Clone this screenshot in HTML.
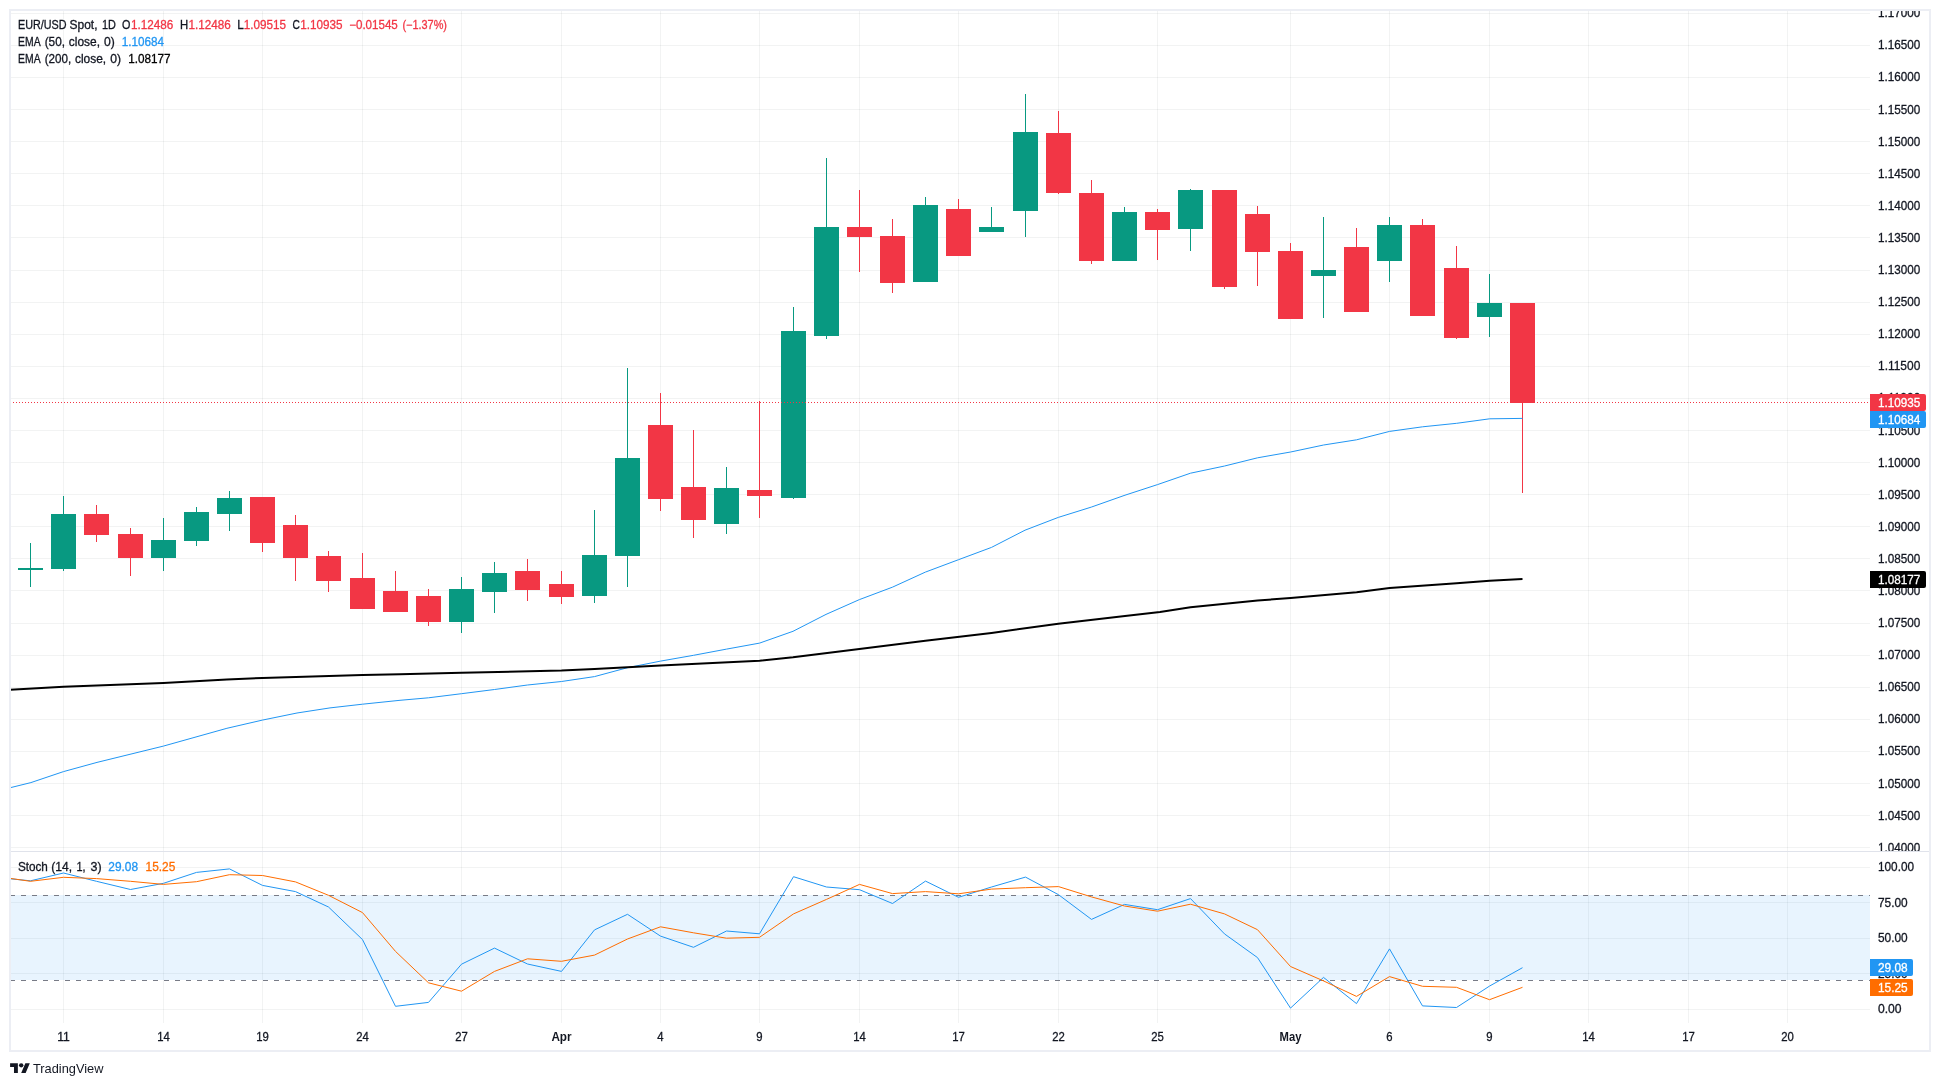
<!DOCTYPE html>
<html><head><meta charset="utf-8"><title>EUR/USD Spot chart</title>
<style>html,body{margin:0;padding:0;background:#fff;font-family:"Liberation Sans",sans-serif}svg{display:block;will-change:transform}</style>
</head><body>
<svg width="1940" height="1086" viewBox="0 0 1940 1086" font-family="Liberation Sans, sans-serif" style="display:block">
<rect width="1940" height="1086" fill="#fff"/>
<g fill="#2a2e39" fill-opacity="0.06" shape-rendering="crispEdges">
<rect x="63" y="11" width="1" height="840"/>
<rect x="63" y="852" width="1" height="171"/>
<rect x="163" y="11" width="1" height="840"/>
<rect x="163" y="852" width="1" height="171"/>
<rect x="262" y="11" width="1" height="840"/>
<rect x="262" y="852" width="1" height="171"/>
<rect x="362" y="11" width="1" height="840"/>
<rect x="362" y="852" width="1" height="171"/>
<rect x="461" y="11" width="1" height="840"/>
<rect x="461" y="852" width="1" height="171"/>
<rect x="561" y="11" width="1" height="840"/>
<rect x="561" y="852" width="1" height="171"/>
<rect x="660" y="11" width="1" height="840"/>
<rect x="660" y="852" width="1" height="171"/>
<rect x="759" y="11" width="1" height="840"/>
<rect x="759" y="852" width="1" height="171"/>
<rect x="859" y="11" width="1" height="840"/>
<rect x="859" y="852" width="1" height="171"/>
<rect x="958" y="11" width="1" height="840"/>
<rect x="958" y="852" width="1" height="171"/>
<rect x="1058" y="11" width="1" height="840"/>
<rect x="1058" y="852" width="1" height="171"/>
<rect x="1157" y="11" width="1" height="840"/>
<rect x="1157" y="852" width="1" height="171"/>
<rect x="1290" y="11" width="1" height="840"/>
<rect x="1290" y="852" width="1" height="171"/>
<rect x="1389" y="11" width="1" height="840"/>
<rect x="1389" y="852" width="1" height="171"/>
<rect x="1489" y="11" width="1" height="840"/>
<rect x="1489" y="852" width="1" height="171"/>
<rect x="1588" y="11" width="1" height="840"/>
<rect x="1588" y="852" width="1" height="171"/>
<rect x="1688" y="11" width="1" height="840"/>
<rect x="1688" y="852" width="1" height="171"/>
<rect x="1787" y="11" width="1" height="840"/>
<rect x="1787" y="852" width="1" height="171"/>
<rect x="11" y="13" width="1859" height="1"/>
<rect x="11" y="45" width="1859" height="1"/>
<rect x="11" y="77" width="1859" height="1"/>
<rect x="11" y="109" width="1859" height="1"/>
<rect x="11" y="141" width="1859" height="1"/>
<rect x="11" y="173" width="1859" height="1"/>
<rect x="11" y="205" width="1859" height="1"/>
<rect x="11" y="237" width="1859" height="1"/>
<rect x="11" y="270" width="1859" height="1"/>
<rect x="11" y="302" width="1859" height="1"/>
<rect x="11" y="334" width="1859" height="1"/>
<rect x="11" y="366" width="1859" height="1"/>
<rect x="11" y="398" width="1859" height="1"/>
<rect x="11" y="430" width="1859" height="1"/>
<rect x="11" y="462" width="1859" height="1"/>
<rect x="11" y="494" width="1859" height="1"/>
<rect x="11" y="526" width="1859" height="1"/>
<rect x="11" y="558" width="1859" height="1"/>
<rect x="11" y="590" width="1859" height="1"/>
<rect x="11" y="623" width="1859" height="1"/>
<rect x="11" y="655" width="1859" height="1"/>
<rect x="11" y="687" width="1859" height="1"/>
<rect x="11" y="719" width="1859" height="1"/>
<rect x="11" y="751" width="1859" height="1"/>
<rect x="11" y="783" width="1859" height="1"/>
<rect x="11" y="815" width="1859" height="1"/>
<rect x="11" y="847" width="1859" height="1"/>
<rect x="11" y="867" width="1859" height="1"/>
<rect x="11" y="902" width="1859" height="1"/>
<rect x="11" y="938" width="1859" height="1"/>
<rect x="11" y="973" width="1859" height="1"/>
<rect x="11" y="1009" width="1859" height="1"/>
</g>
<rect x="11" y="895" width="1859" height="85" fill="#2196f3" fill-opacity="0.1" shape-rendering="crispEdges"/>
<g stroke="#787b86" stroke-width="1" stroke-dasharray="5 6" shape-rendering="crispEdges">
<line x1="10" y1="895.5" x2="1870" y2="895.5"/><line x1="10" y1="980.5" x2="1870" y2="980.5"/></g>
<g shape-rendering="crispEdges">
<rect x="30" y="543" width="1" height="44" fill="#089981"/>
<rect x="18" y="568" width="25" height="2" fill="#089981"/>
<rect x="63" y="496" width="1" height="75" fill="#089981"/>
<rect x="51" y="514" width="25" height="55" fill="#089981"/>
<rect x="96" y="505" width="1" height="37" fill="#f23645"/>
<rect x="84" y="514" width="25" height="21" fill="#f23645"/>
<rect x="130" y="528" width="1" height="48" fill="#f23645"/>
<rect x="118" y="534" width="25" height="24" fill="#f23645"/>
<rect x="163" y="518" width="1" height="53" fill="#089981"/>
<rect x="151" y="540" width="25" height="18" fill="#089981"/>
<rect x="196" y="507" width="1" height="39" fill="#089981"/>
<rect x="184" y="512" width="25" height="29" fill="#089981"/>
<rect x="229" y="491" width="1" height="40" fill="#089981"/>
<rect x="217" y="498" width="25" height="16" fill="#089981"/>
<rect x="262" y="497" width="1" height="55" fill="#f23645"/>
<rect x="250" y="497" width="25" height="46" fill="#f23645"/>
<rect x="295" y="515" width="1" height="66" fill="#f23645"/>
<rect x="283" y="525" width="25" height="33" fill="#f23645"/>
<rect x="328" y="551" width="1" height="41" fill="#f23645"/>
<rect x="316" y="556" width="25" height="25" fill="#f23645"/>
<rect x="362" y="553" width="1" height="56" fill="#f23645"/>
<rect x="350" y="578" width="25" height="31" fill="#f23645"/>
<rect x="395" y="571" width="1" height="41" fill="#f23645"/>
<rect x="383" y="591" width="25" height="21" fill="#f23645"/>
<rect x="428" y="589" width="1" height="37" fill="#f23645"/>
<rect x="416" y="596" width="25" height="26" fill="#f23645"/>
<rect x="461" y="577" width="1" height="56" fill="#089981"/>
<rect x="449" y="589" width="25" height="33" fill="#089981"/>
<rect x="494" y="562" width="1" height="51" fill="#089981"/>
<rect x="482" y="573" width="25" height="19" fill="#089981"/>
<rect x="527" y="559" width="1" height="42" fill="#f23645"/>
<rect x="515" y="571" width="25" height="19" fill="#f23645"/>
<rect x="561" y="571" width="1" height="33" fill="#f23645"/>
<rect x="549" y="584" width="25" height="13" fill="#f23645"/>
<rect x="594" y="510" width="1" height="93" fill="#089981"/>
<rect x="582" y="555" width="25" height="41" fill="#089981"/>
<rect x="627" y="368" width="1" height="219" fill="#089981"/>
<rect x="615" y="458" width="25" height="98" fill="#089981"/>
<rect x="660" y="393" width="1" height="118" fill="#f23645"/>
<rect x="648" y="425" width="25" height="74" fill="#f23645"/>
<rect x="693" y="430" width="1" height="108" fill="#f23645"/>
<rect x="681" y="487" width="25" height="33" fill="#f23645"/>
<rect x="726" y="467" width="1" height="67" fill="#089981"/>
<rect x="714" y="488" width="25" height="36" fill="#089981"/>
<rect x="759" y="401" width="1" height="117" fill="#f23645"/>
<rect x="747" y="490" width="25" height="6" fill="#f23645"/>
<rect x="793" y="307" width="1" height="192" fill="#089981"/>
<rect x="781" y="331" width="25" height="167" fill="#089981"/>
<rect x="826" y="158" width="1" height="181" fill="#089981"/>
<rect x="814" y="227" width="25" height="109" fill="#089981"/>
<rect x="859" y="190" width="1" height="82" fill="#f23645"/>
<rect x="847" y="227" width="25" height="10" fill="#f23645"/>
<rect x="892" y="219" width="1" height="74" fill="#f23645"/>
<rect x="880" y="236" width="25" height="47" fill="#f23645"/>
<rect x="925" y="197" width="1" height="85" fill="#089981"/>
<rect x="913" y="205" width="25" height="77" fill="#089981"/>
<rect x="958" y="199" width="1" height="57" fill="#f23645"/>
<rect x="946" y="209" width="25" height="47" fill="#f23645"/>
<rect x="991" y="207" width="1" height="25" fill="#089981"/>
<rect x="979" y="227" width="25" height="5" fill="#089981"/>
<rect x="1025" y="94" width="1" height="143" fill="#089981"/>
<rect x="1013" y="132" width="25" height="79" fill="#089981"/>
<rect x="1058" y="111" width="1" height="83" fill="#f23645"/>
<rect x="1046" y="133" width="25" height="60" fill="#f23645"/>
<rect x="1091" y="180" width="1" height="84" fill="#f23645"/>
<rect x="1079" y="193" width="25" height="68" fill="#f23645"/>
<rect x="1124" y="207" width="1" height="54" fill="#089981"/>
<rect x="1112" y="212" width="25" height="49" fill="#089981"/>
<rect x="1157" y="209" width="1" height="51" fill="#f23645"/>
<rect x="1145" y="212" width="25" height="18" fill="#f23645"/>
<rect x="1190" y="189" width="1" height="62" fill="#089981"/>
<rect x="1178" y="190" width="25" height="39" fill="#089981"/>
<rect x="1224" y="190" width="1" height="99" fill="#f23645"/>
<rect x="1212" y="190" width="25" height="97" fill="#f23645"/>
<rect x="1257" y="206" width="1" height="80" fill="#f23645"/>
<rect x="1245" y="214" width="25" height="38" fill="#f23645"/>
<rect x="1290" y="243" width="1" height="76" fill="#f23645"/>
<rect x="1278" y="251" width="25" height="68" fill="#f23645"/>
<rect x="1323" y="217" width="1" height="101" fill="#089981"/>
<rect x="1311" y="270" width="25" height="6" fill="#089981"/>
<rect x="1356" y="228" width="1" height="84" fill="#f23645"/>
<rect x="1344" y="247" width="25" height="65" fill="#f23645"/>
<rect x="1389" y="217" width="1" height="65" fill="#089981"/>
<rect x="1377" y="225" width="25" height="36" fill="#089981"/>
<rect x="1422" y="219" width="1" height="97" fill="#f23645"/>
<rect x="1410" y="225" width="25" height="91" fill="#f23645"/>
<rect x="1456" y="246" width="1" height="93" fill="#f23645"/>
<rect x="1444" y="268" width="25" height="70" fill="#f23645"/>
<rect x="1489" y="274" width="1" height="63" fill="#089981"/>
<rect x="1477" y="303" width="25" height="14" fill="#089981"/>
<rect x="1522" y="303" width="1" height="190" fill="#f23645"/>
<rect x="1510" y="303" width="25" height="100" fill="#f23645"/>
</g>
<polyline points="10.3,787.7 30.9,782.6 63.5,771.6 97.0,762.4 163.4,746.1 226.9,728.3 262.4,720.1 297.0,713.0 330.0,707.9 362.5,704.2 400.0,700.3 428.5,697.8 461.5,693.7 494.5,689.5 527.5,685.0 561.5,681.5 594.5,676.6 627.5,667.7 660.6,661.1 693.6,655.3 726.6,649.1 759.6,643.1 793.0,631.3 826.0,614.4 859.4,599.6 892.4,587.2 925.4,572.1 958.5,559.7 991.5,547.4 1025.0,530.2 1058.3,517.4 1091.3,507.1 1125.0,495.2 1157.5,484.6 1190.5,473.2 1224.6,466.0 1257.6,457.8 1290.6,452.0 1323.6,445.0 1356.6,439.8 1389.6,431.4 1422.6,426.8 1456.7,423.3 1489.7,418.8 1522.5,418.4" fill="none" stroke="#2196f3" stroke-width="1" stroke-linejoin="round" />
<polyline points="10.3,689.7 63.5,686.8 163.4,682.9 226.9,679.4 262.4,678.0 362.5,675.1 400.0,674.2 461.5,672.8 561.5,670.6 594.5,668.9 627.5,667.3 660.6,665.6 759.6,660.7 793.0,657.3 859.4,648.9 925.4,640.8 991.5,633.0 1058.3,623.7 1125.0,616.1 1160.0,611.9 1190.5,607.3 1257.6,600.5 1290.6,598.0 1356.6,592.3 1389.6,588.1 1456.7,583.2 1489.7,580.7 1522.5,579.0" fill="none" stroke="#000" stroke-width="2" stroke-linejoin="round" />
<line x1="10" y1="402.5" x2="1870" y2="402.5" stroke="#f23645" stroke-width="1" stroke-dasharray="1 2" shape-rendering="crispEdges"/>
<polyline points="10.3,878.8 30.5,880.8 63.5,873.0 96.5,881.3 130.5,889.5 163.5,883.3 196.5,872.4 229.5,868.9 262.5,885.4 295.5,891.6 328.5,907.0 362.5,939.6 395.5,1006.3 428.5,1002.4 461.5,964.2 494.5,948.1 527.5,964.0 561.5,971.4 594.5,929.9 627.5,914.3 660.5,936.1 693.5,947.3 726.5,931.0 759.5,933.8 793.5,876.7 826.5,887.0 859.5,889.7 892.5,903.5 925.5,881.1 958.5,897.3 991.5,887.0 1025.5,877.1 1058.5,894.7 1091.5,919.4 1124.5,904.4 1157.5,909.7 1190.5,898.6 1224.5,933.9 1257.5,957.6 1290.5,1008.1 1323.5,977.4 1356.5,1003.6 1389.5,948.9 1422.5,1005.9 1456.5,1007.5 1489.5,986.1 1522.5,967.7" fill="none" stroke="#2196f3" stroke-width="1" stroke-linejoin="round" />
<polyline points="10.3,878.4 30.5,881.3 63.5,877.3 96.5,878.6 130.5,881.3 163.5,884.4 196.5,881.7 229.5,874.7 262.5,875.5 295.5,881.9 328.5,895.3 362.5,912.6 395.5,951.4 428.5,982.8 461.5,991.2 494.5,971.4 527.5,958.8 561.5,961.3 594.5,955.1 627.5,939.0 660.5,926.8 693.5,932.8 726.5,938.2 759.5,937.3 793.5,913.9 826.5,899.4 859.5,884.4 892.5,893.6 925.5,891.6 958.5,893.8 991.5,889.1 1025.5,887.7 1058.5,886.6 1091.5,896.9 1124.5,906.0 1157.5,911.2 1190.5,904.2 1224.5,913.9 1257.5,929.7 1290.5,966.5 1323.5,980.9 1356.5,996.4 1389.5,976.6 1422.5,986.3 1456.5,987.3 1489.5,999.7 1522.5,987.3" fill="none" stroke="#ff6d00" stroke-width="1" stroke-linejoin="round" />
<rect x="11" y="851" width="1918" height="1" fill="#e0e3eb" shape-rendering="crispEdges"/>
<clipPath id="pc"><rect x="1870" y="11" width="59" height="840"/></clipPath>
<g clip-path="url(#pc)">
<text x="1878" y="16.8" font-size="12" fill="#131722" stroke="#131722" stroke-width="0.3" textLength="42.3" lengthAdjust="spacingAndGlyphs" >1.17000</text>
<text x="1878" y="48.8" font-size="12" fill="#131722" stroke="#131722" stroke-width="0.3" textLength="42.3" lengthAdjust="spacingAndGlyphs" >1.16500</text>
<text x="1878" y="80.8" font-size="12" fill="#131722" stroke="#131722" stroke-width="0.3" textLength="42.3" lengthAdjust="spacingAndGlyphs" >1.16000</text>
<text x="1878" y="113.8" font-size="12" fill="#131722" stroke="#131722" stroke-width="0.3" textLength="42.3" lengthAdjust="spacingAndGlyphs" >1.15500</text>
<text x="1878" y="145.8" font-size="12" fill="#131722" stroke="#131722" stroke-width="0.3" textLength="42.3" lengthAdjust="spacingAndGlyphs" >1.15000</text>
<text x="1878" y="177.8" font-size="12" fill="#131722" stroke="#131722" stroke-width="0.3" textLength="42.3" lengthAdjust="spacingAndGlyphs" >1.14500</text>
<text x="1878" y="209.8" font-size="12" fill="#131722" stroke="#131722" stroke-width="0.3" textLength="42.3" lengthAdjust="spacingAndGlyphs" >1.14000</text>
<text x="1878" y="241.8" font-size="12" fill="#131722" stroke="#131722" stroke-width="0.3" textLength="42.3" lengthAdjust="spacingAndGlyphs" >1.13500</text>
<text x="1878" y="273.8" font-size="12" fill="#131722" stroke="#131722" stroke-width="0.3" textLength="42.3" lengthAdjust="spacingAndGlyphs" >1.13000</text>
<text x="1878" y="305.8" font-size="12" fill="#131722" stroke="#131722" stroke-width="0.3" textLength="42.3" lengthAdjust="spacingAndGlyphs" >1.12500</text>
<text x="1878" y="337.8" font-size="12" fill="#131722" stroke="#131722" stroke-width="0.3" textLength="42.3" lengthAdjust="spacingAndGlyphs" >1.12000</text>
<text x="1878" y="369.8" font-size="12" fill="#131722" stroke="#131722" stroke-width="0.3" textLength="42.3" lengthAdjust="spacingAndGlyphs" >1.11500</text>
<text x="1878" y="401.8" font-size="12" fill="#131722" stroke="#131722" stroke-width="0.3" textLength="42.3" lengthAdjust="spacingAndGlyphs" >1.11000</text>
<text x="1878" y="434.8" font-size="12" fill="#131722" stroke="#131722" stroke-width="0.3" textLength="42.3" lengthAdjust="spacingAndGlyphs" >1.10500</text>
<text x="1878" y="466.8" font-size="12" fill="#131722" stroke="#131722" stroke-width="0.3" textLength="42.3" lengthAdjust="spacingAndGlyphs" >1.10000</text>
<text x="1878" y="498.8" font-size="12" fill="#131722" stroke="#131722" stroke-width="0.3" textLength="42.3" lengthAdjust="spacingAndGlyphs" >1.09500</text>
<text x="1878" y="530.8" font-size="12" fill="#131722" stroke="#131722" stroke-width="0.3" textLength="42.3" lengthAdjust="spacingAndGlyphs" >1.09000</text>
<text x="1878" y="562.8" font-size="12" fill="#131722" stroke="#131722" stroke-width="0.3" textLength="42.3" lengthAdjust="spacingAndGlyphs" >1.08500</text>
<text x="1878" y="594.8" font-size="12" fill="#131722" stroke="#131722" stroke-width="0.3" textLength="42.3" lengthAdjust="spacingAndGlyphs" >1.08000</text>
<text x="1878" y="626.8" font-size="12" fill="#131722" stroke="#131722" stroke-width="0.3" textLength="42.3" lengthAdjust="spacingAndGlyphs" >1.07500</text>
<text x="1878" y="658.8" font-size="12" fill="#131722" stroke="#131722" stroke-width="0.3" textLength="42.3" lengthAdjust="spacingAndGlyphs" >1.07000</text>
<text x="1878" y="690.8" font-size="12" fill="#131722" stroke="#131722" stroke-width="0.3" textLength="42.3" lengthAdjust="spacingAndGlyphs" >1.06500</text>
<text x="1878" y="722.8" font-size="12" fill="#131722" stroke="#131722" stroke-width="0.3" textLength="42.3" lengthAdjust="spacingAndGlyphs" >1.06000</text>
<text x="1878" y="754.8" font-size="12" fill="#131722" stroke="#131722" stroke-width="0.3" textLength="42.3" lengthAdjust="spacingAndGlyphs" >1.05500</text>
<text x="1878" y="787.8" font-size="12" fill="#131722" stroke="#131722" stroke-width="0.3" textLength="42.3" lengthAdjust="spacingAndGlyphs" >1.05000</text>
<text x="1878" y="819.8" font-size="12" fill="#131722" stroke="#131722" stroke-width="0.3" textLength="42.3" lengthAdjust="spacingAndGlyphs" >1.04500</text>
<text x="1878" y="851.8" font-size="12" fill="#131722" stroke="#131722" stroke-width="0.3" textLength="42.3" lengthAdjust="spacingAndGlyphs" >1.04000</text>
</g>
<text x="1878" y="870.8" font-size="12" fill="#131722" stroke="#131722" stroke-width="0.3" textLength="36" lengthAdjust="spacingAndGlyphs" >100.00</text>
<text x="1878" y="906.8" font-size="12" fill="#131722" stroke="#131722" stroke-width="0.3" textLength="29.7" lengthAdjust="spacingAndGlyphs" >75.00</text>
<text x="1878" y="941.8" font-size="12" fill="#131722" stroke="#131722" stroke-width="0.3" textLength="29.7" lengthAdjust="spacingAndGlyphs" >50.00</text>
<text x="1878" y="977.8" font-size="12" fill="#131722" stroke="#131722" stroke-width="0.3" textLength="29.7" lengthAdjust="spacingAndGlyphs" >25.00</text>
<text x="1878" y="1012.8" font-size="12" fill="#131722" stroke="#131722" stroke-width="0.3" textLength="23.6" lengthAdjust="spacingAndGlyphs" >0.00</text>
<path d="M1870 394h54a2 2 0 0 1 2 2v13a2 2 0 0 1 -2 2h-54z" fill="#f23645"/>
<text x="1878" y="406.8" font-size="12" fill="#fff" stroke="#fff" stroke-width="0.3" textLength="42.3" lengthAdjust="spacingAndGlyphs" >1.10935</text>
<path d="M1870 411h54a2 2 0 0 1 2 2v13a2 2 0 0 1 -2 2h-54z" fill="#2196f3"/>
<text x="1878" y="423.8" font-size="12" fill="#fff" stroke="#fff" stroke-width="0.3" textLength="42.3" lengthAdjust="spacingAndGlyphs" >1.10684</text>
<path d="M1870 571h54a2 2 0 0 1 2 2v13a2 2 0 0 1 -2 2h-54z" fill="#000"/>
<text x="1878" y="583.8" font-size="12" fill="#fff" stroke="#fff" stroke-width="0.3" textLength="42.3" lengthAdjust="spacingAndGlyphs" >1.08177</text>
<path d="M1870 959h41a2 2 0 0 1 2 2v13a2 2 0 0 1 -2 2h-41z" fill="#2196f3"/>
<text x="1878" y="971.8" font-size="12" fill="#fff" stroke="#fff" stroke-width="0.3" textLength="29.7" lengthAdjust="spacingAndGlyphs" >29.08</text>
<path d="M1870 979h41a2 2 0 0 1 2 2v13a2 2 0 0 1 -2 2h-41z" fill="#ff6d00"/>
<text x="1878" y="991.8" font-size="12" fill="#fff" stroke="#fff" stroke-width="0.3" textLength="29.7" lengthAdjust="spacingAndGlyphs" >15.25</text>
<text x="63.5" y="1040.7" font-size="12" fill="#131722" stroke="#131722" stroke-width="0.3" textLength="12.6" lengthAdjust="spacingAndGlyphs" text-anchor="middle" >11</text>
<text x="163.5" y="1040.7" font-size="12" fill="#131722" stroke="#131722" stroke-width="0.3" textLength="12.6" lengthAdjust="spacingAndGlyphs" text-anchor="middle" >14</text>
<text x="262.5" y="1040.7" font-size="12" fill="#131722" stroke="#131722" stroke-width="0.3" textLength="12.6" lengthAdjust="spacingAndGlyphs" text-anchor="middle" >19</text>
<text x="362.5" y="1040.7" font-size="12" fill="#131722" stroke="#131722" stroke-width="0.3" textLength="12.6" lengthAdjust="spacingAndGlyphs" text-anchor="middle" >24</text>
<text x="461.5" y="1040.7" font-size="12" fill="#131722" stroke="#131722" stroke-width="0.3" textLength="12.6" lengthAdjust="spacingAndGlyphs" text-anchor="middle" >27</text>
<text x="561.5" y="1040.7" font-size="12" fill="#131722" stroke="#131722" stroke-width="0" textLength="20.2" lengthAdjust="spacingAndGlyphs" text-anchor="middle" font-weight="bold" >Apr</text>
<text x="660.5" y="1040.7" font-size="12" fill="#131722" stroke="#131722" stroke-width="0.3" textLength="6.3" lengthAdjust="spacingAndGlyphs" text-anchor="middle" >4</text>
<text x="759.5" y="1040.7" font-size="12" fill="#131722" stroke="#131722" stroke-width="0.3" textLength="6.3" lengthAdjust="spacingAndGlyphs" text-anchor="middle" >9</text>
<text x="859.5" y="1040.7" font-size="12" fill="#131722" stroke="#131722" stroke-width="0.3" textLength="12.6" lengthAdjust="spacingAndGlyphs" text-anchor="middle" >14</text>
<text x="958.5" y="1040.7" font-size="12" fill="#131722" stroke="#131722" stroke-width="0.3" textLength="12.6" lengthAdjust="spacingAndGlyphs" text-anchor="middle" >17</text>
<text x="1058.5" y="1040.7" font-size="12" fill="#131722" stroke="#131722" stroke-width="0.3" textLength="12.6" lengthAdjust="spacingAndGlyphs" text-anchor="middle" >22</text>
<text x="1157.5" y="1040.7" font-size="12" fill="#131722" stroke="#131722" stroke-width="0.3" textLength="12.6" lengthAdjust="spacingAndGlyphs" text-anchor="middle" >25</text>
<text x="1290.5" y="1040.7" font-size="12" fill="#131722" stroke="#131722" stroke-width="0" textLength="21.9" lengthAdjust="spacingAndGlyphs" text-anchor="middle" font-weight="bold" >May</text>
<text x="1389.5" y="1040.7" font-size="12" fill="#131722" stroke="#131722" stroke-width="0.3" textLength="6.3" lengthAdjust="spacingAndGlyphs" text-anchor="middle" >6</text>
<text x="1489.5" y="1040.7" font-size="12" fill="#131722" stroke="#131722" stroke-width="0.3" textLength="6.3" lengthAdjust="spacingAndGlyphs" text-anchor="middle" >9</text>
<text x="1588.5" y="1040.7" font-size="12" fill="#131722" stroke="#131722" stroke-width="0.3" textLength="12.6" lengthAdjust="spacingAndGlyphs" text-anchor="middle" >14</text>
<text x="1688.5" y="1040.7" font-size="12" fill="#131722" stroke="#131722" stroke-width="0.3" textLength="12.6" lengthAdjust="spacingAndGlyphs" text-anchor="middle" >17</text>
<text x="1787.5" y="1040.7" font-size="12" fill="#131722" stroke="#131722" stroke-width="0.3" textLength="12.6" lengthAdjust="spacingAndGlyphs" text-anchor="middle" >20</text>
<text x="18.1" y="28.8" font-size="12" fill="#131722" stroke="#131722" stroke-width="0.3" textLength="48.5" lengthAdjust="spacingAndGlyphs" >EUR/USD</text>
<text x="69.5" y="28.8" font-size="12" fill="#131722" stroke="#131722" stroke-width="0.3" textLength="28.0" lengthAdjust="spacingAndGlyphs" >Spot,</text>
<text x="101.9" y="28.8" font-size="12" fill="#131722" stroke="#131722" stroke-width="0.3" textLength="13.9" lengthAdjust="spacingAndGlyphs" >1D</text>
<text x="122" y="28.8" font-size="12" fill="#131722" stroke="#131722" stroke-width="0.3" textLength="8.4" lengthAdjust="spacingAndGlyphs" >O</text>
<text x="131" y="28.8" font-size="12" fill="#f23645" stroke="#f23645" stroke-width="0.3" textLength="42.3" lengthAdjust="spacingAndGlyphs" >1.12486</text>
<text x="180" y="28.8" font-size="12" fill="#131722" stroke="#131722" stroke-width="0.3" textLength="8.2" lengthAdjust="spacingAndGlyphs" >H</text>
<text x="188.6" y="28.8" font-size="12" fill="#f23645" stroke="#f23645" stroke-width="0.3" textLength="42.3" lengthAdjust="spacingAndGlyphs" >1.12486</text>
<text x="237.2" y="28.8" font-size="12" fill="#131722" stroke="#131722" stroke-width="0.3" textLength="6.5" lengthAdjust="spacingAndGlyphs" >L</text>
<text x="243.8" y="28.8" font-size="12" fill="#f23645" stroke="#f23645" stroke-width="0.3" textLength="42.3" lengthAdjust="spacingAndGlyphs" >1.09515</text>
<text x="292.5" y="28.8" font-size="12" fill="#131722" stroke="#131722" stroke-width="0.3" textLength="7.4" lengthAdjust="spacingAndGlyphs" >C</text>
<text x="300.2" y="28.8" font-size="12" fill="#f23645" stroke="#f23645" stroke-width="0.3" textLength="42.3" lengthAdjust="spacingAndGlyphs" >1.10935</text>
<text x="349.2" y="28.8" font-size="12" fill="#f23645" stroke="#f23645" stroke-width="0.3" textLength="48.6" lengthAdjust="spacingAndGlyphs" >−0.01545</text>
<text x="402.4" y="28.8" font-size="12" fill="#f23645" stroke="#f23645" stroke-width="0.3" textLength="44.6" lengthAdjust="spacingAndGlyphs" >(−1.37%)</text>
<text x="18.1" y="45.8" font-size="12" fill="#131722" stroke="#131722" stroke-width="0.3" textLength="22.5" lengthAdjust="spacingAndGlyphs" >EMA</text>
<text x="44.7" y="45.8" font-size="12" fill="#131722" stroke="#131722" stroke-width="0.3" textLength="20.3" lengthAdjust="spacingAndGlyphs" >(50,</text>
<text x="68.8" y="45.8" font-size="12" fill="#131722" stroke="#131722" stroke-width="0.3" textLength="31.2" lengthAdjust="spacingAndGlyphs" >close,</text>
<text x="104.0" y="45.8" font-size="12" fill="#131722" stroke="#131722" stroke-width="0.3" textLength="10.8" lengthAdjust="spacingAndGlyphs" >0)</text>
<text x="121.8" y="45.8" font-size="12" fill="#2196f3" stroke="#2196f3" stroke-width="0.3" textLength="42.3" lengthAdjust="spacingAndGlyphs" >1.10684</text>
<text x="18.1" y="62.8" font-size="12" fill="#131722" stroke="#131722" stroke-width="0.3" textLength="22.5" lengthAdjust="spacingAndGlyphs" >EMA</text>
<text x="44.7" y="62.8" font-size="12" fill="#131722" stroke="#131722" stroke-width="0.3" textLength="26.5" lengthAdjust="spacingAndGlyphs" >(200,</text>
<text x="75.0" y="62.8" font-size="12" fill="#131722" stroke="#131722" stroke-width="0.3" textLength="31.2" lengthAdjust="spacingAndGlyphs" >close,</text>
<text x="110.2" y="62.8" font-size="12" fill="#131722" stroke="#131722" stroke-width="0.3" textLength="10.8" lengthAdjust="spacingAndGlyphs" >0)</text>
<text x="128.2" y="62.8" font-size="12" fill="#000" stroke="#000" stroke-width="0.3" textLength="42.3" lengthAdjust="spacingAndGlyphs" >1.08177</text>
<text x="17.9" y="871" font-size="12" fill="#131722" stroke="#131722" stroke-width="0.3" textLength="30.0" lengthAdjust="spacingAndGlyphs" >Stoch</text>
<text x="51.3" y="871" font-size="12" fill="#131722" stroke="#131722" stroke-width="0.3" textLength="20.8" lengthAdjust="spacingAndGlyphs" >(14,</text>
<text x="76.4" y="871" font-size="12" fill="#131722" stroke="#131722" stroke-width="0.3" textLength="9.1" lengthAdjust="spacingAndGlyphs" >1,</text>
<text x="90.5" y="871" font-size="12" fill="#131722" stroke="#131722" stroke-width="0.3" textLength="11.1" lengthAdjust="spacingAndGlyphs" >3)</text>
<text x="108.3" y="871" font-size="12" fill="#2196f3" stroke="#2196f3" stroke-width="0.3" textLength="29.7" lengthAdjust="spacingAndGlyphs" >29.08</text>
<text x="145.6" y="871" font-size="12" fill="#ff6d00" stroke="#ff6d00" stroke-width="0.3" textLength="29.7" lengthAdjust="spacingAndGlyphs" >15.25</text>
<rect x="10" y="10" width="1920" height="1041" fill="none" stroke="#eceef4" stroke-width="2" shape-rendering="crispEdges"/>
<g transform="translate(10.1 1061.04) scale(0.555 0.54)" fill="#131722"><path d="M14 22H7V11H0V4h14v18zM28 22h-8l7.5-18h8L28 22z"/><circle cx="20" cy="8" r="4"/></g>
<text x="33.0" y="1072.9" font-size="13.4" fill="#131722" stroke="#131722" stroke-width="0" textLength="70.4" lengthAdjust="spacingAndGlyphs" >TradingView</text>
</svg>
</body></html>
